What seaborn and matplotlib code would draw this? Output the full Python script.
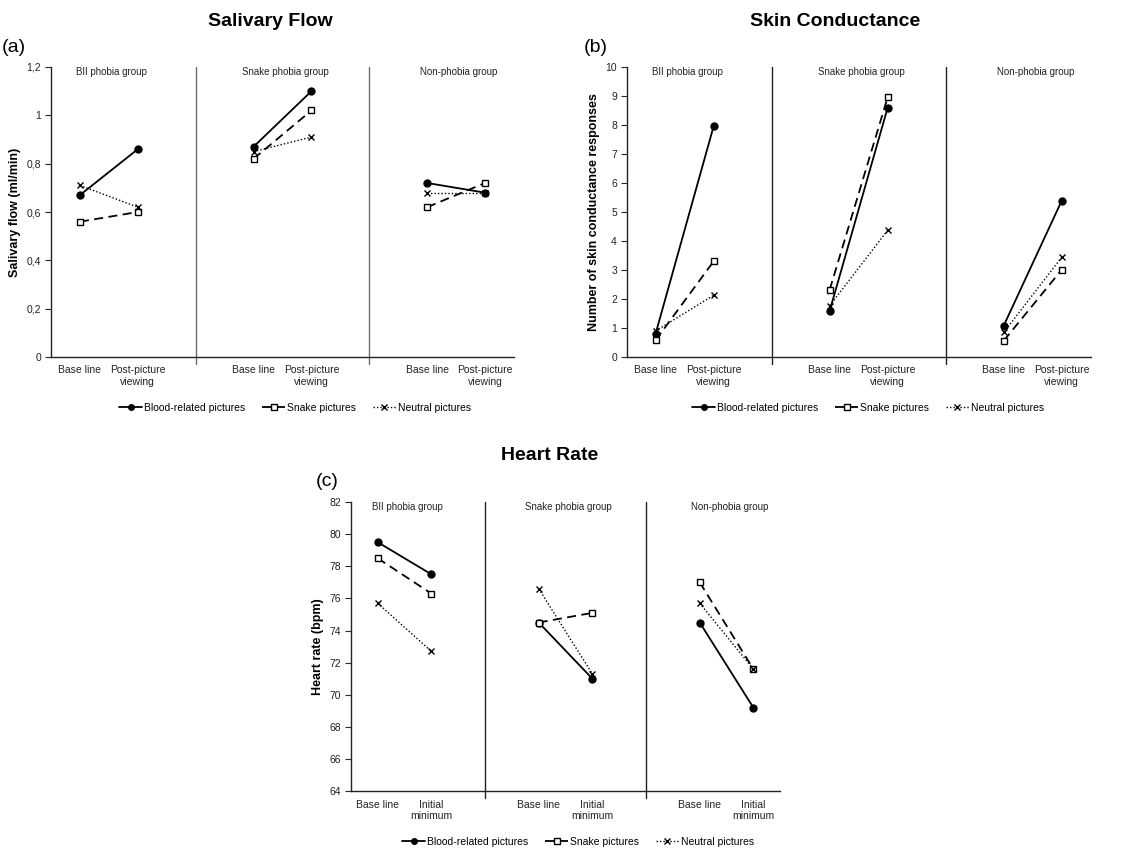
import pandas as pd
import matplotlib
matplotlib.use("Agg")
import matplotlib.pyplot as plt
import seaborn as sns
from matplotlib.lines import Line2D

sns.set_style("white")
plt.rcParams['font.family'] = ['Liberation Sans', 'DejaVu Sans']
plt.rcParams['text.color'] = 'black'
plt.rcParams['axes.labelcolor'] = 'black'

# group / condition layout
groups = ["BII phobia group", "Snake phobia group", "Non-phobia group"]
series = ["Blood-related pictures", "Snake pictures", "Neutral pictures"]

# (a) Salivary flow, values per group: [base, post]
saliva_blood = [[0.67, 0.86], [0.87, 1.10], [0.72, 0.68]]
saliva_snake = [[0.56, 0.60], [0.82, 1.02], [0.62, 0.72]]
saliva_neutral = [[0.71, 0.62], [0.85, 0.91], [0.68, 0.68]]

# (b) Skin conductance responses
scr_blood = [[0.81, 7.96], [1.59, 8.60], [1.08, 5.39]]
scr_snake = [[0.58, 3.30], [2.32, 8.96], [0.56, 3.01]]
scr_neutral = [[0.90, 2.13], [1.77, 4.37], [0.85, 3.44]]

# (c) Heart rate
hr_blood = [[79.5, 77.5], [74.5, 71.0], [74.5, 69.2]]
hr_snake = [[78.5, 76.3], [74.5, 75.1], [77.0, 71.6]]
hr_neutral = [[75.7, 72.7], [76.6, 71.3], [75.7, 71.6]]

ab_conditions = ["Base line", "Post-picture\nviewing"]
c_conditions = ["Base line", "Initial\nminimum"]

styles = {
    "Blood-related pictures": dict(marker="o", linestyle="-", lw=1.3, ms=5, mfc="black"),
    "Snake pictures": dict(marker="s", linestyle=(0, (5, 3)), lw=1.3, ms=5, mfc="white"),
    "Neutral pictures": dict(marker="x", linestyle=(0, (1, 1.5)), lw=1.0, ms=4, mfc="black"),
}


def to_frame(blood, snake, neutral):
    rows = []
    for name, vals in zip(series, [blood, snake, neutral]):
        for g, pair in enumerate(vals):
            for c, v in enumerate(pair):
                rows.append({"series": name, "grp": g, "x": g * 3 + c, "y": v})
    return pd.DataFrame(rows)


def draw_panel(ax, df, conds, ylim, yticks, yticklabels, ylabel, sep_color):
    for name in series:
        st = styles[name]
        sns.lineplot(data=df[df.series == name], x="x", y="y", units="grp",
                     estimator=None, ax=ax, color="black", marker=st["marker"],
                     linestyle=st["linestyle"], linewidth=st["lw"],
                     markersize=st["ms"], markerfacecolor=st["mfc"],
                     markeredgecolor="black", markeredgewidth=1.0)
    ax.set_xlim(-0.5, 7.5)
    ax.set_ylim(*ylim)
    ax.set_yticks(yticks)
    ax.set_yticklabels(yticklabels, fontsize=7.5, color="#222222")
    ax.set_xticks([0, 1, 3, 4, 6, 7])
    ax.set_xticklabels(conds * 3, fontsize=7.5, color="#222222")
    ax.tick_params(axis="x", direction="in", length=3, pad=6)
    ax.tick_params(axis="y", direction="out", length=4, left=True, pad=3)
    ax.set_xlabel("")
    ax.set_ylabel(ylabel, fontsize=9, fontweight="bold")
    for s in ["top", "right"]:
        ax.spines[s].set_visible(False)
    for s in ["left", "bottom"]:
        ax.spines[s].set_color("#222222")
        ax.spines[s].set_linewidth(1.0)
    for xs in [2, 5]:
        ax.axvline(xs, ymin=-0.025, ymax=1, color=sep_color, lw=1.0, clip_on=False)
    for g, name in enumerate(groups):
        ax.text(g * 3 + 0.55, ylim[1], name, ha="center", va="top", fontsize=7,
                color="#222222")
    if ax.get_legend() is not None:
        ax.get_legend().remove()


def add_legend(fig, x, y):
    handles = []
    for name in series:
        st = styles[name]
        handles.append(Line2D([], [], color="black", marker=st["marker"],
                              linestyle=st["linestyle"], linewidth=st["lw"],
                              markersize=4, markerfacecolor=st["mfc"],
                              markeredgecolor="black", label=name))
    fig.legend(handles=handles, loc="center", bbox_to_anchor=(x, y), ncol=3,
               frameon=False, fontsize=7.5, handlelength=2.2, handletextpad=0.2,
               columnspacing=1.6)


fig = plt.figure(figsize=(11.21, 8.48), dpi=100)

ax_a = fig.add_axes([0.0455, 0.579, 0.413, 0.342])
draw_panel(ax_a, to_frame(saliva_blood, saliva_snake, saliva_neutral), ab_conditions,
           (0, 1.2), [0, 0.2, 0.4, 0.6, 0.8, 1.0, 1.2],
           ["0", "0,2", "0,4", "0,6", "0,8", "1", "1,2"],
           "Salivary flow (ml/min)", "#6e6e6e")

ax_b = fig.add_axes([0.559, 0.579, 0.414, 0.342])
draw_panel(ax_b, to_frame(scr_blood, scr_snake, scr_neutral), ab_conditions,
           (0, 10), list(range(0, 11)), [str(i) for i in range(0, 11)],
           "Number of skin conductance responses", "#222222")

ax_c = fig.add_axes([0.313, 0.067, 0.383, 0.341])
draw_panel(ax_c, to_frame(hr_blood, hr_snake, hr_neutral), c_conditions,
           (64, 82), list(range(64, 83, 2)), [str(i) for i in range(64, 83, 2)],
           "Heart rate (bpm)", "#222222")

# titles and panel letters
fig.text(270 / 1121, 1 - 22 / 848, "Salivary Flow", ha="center", va="center",
         fontsize=14, fontweight="bold")
fig.text(835 / 1121, 1 - 22 / 848, "Skin Conductance", ha="center", va="center",
         fontsize=14, fontweight="bold")
fig.text(550 / 1121, 1 - 456 / 848, "Heart Rate", ha="center", va="center",
         fontsize=14, fontweight="bold")
fig.text(2 / 1121, 1 - 48 / 848, "(a)", ha="left", va="center", fontsize=14)
fig.text(584 / 1121, 1 - 48 / 848, "(b)", ha="left", va="center", fontsize=14)
fig.text(316 / 1121, 1 - 482 / 848, "(c)", ha="left", va="center", fontsize=14)

add_legend(fig, 295 / 1121, 1 - 408 / 848)
add_legend(fig, 868 / 1121, 1 - 408 / 848)
add_legend(fig, 578 / 1121, 1 - 842 / 848)

plt.savefig("out.png", dpi=100)
